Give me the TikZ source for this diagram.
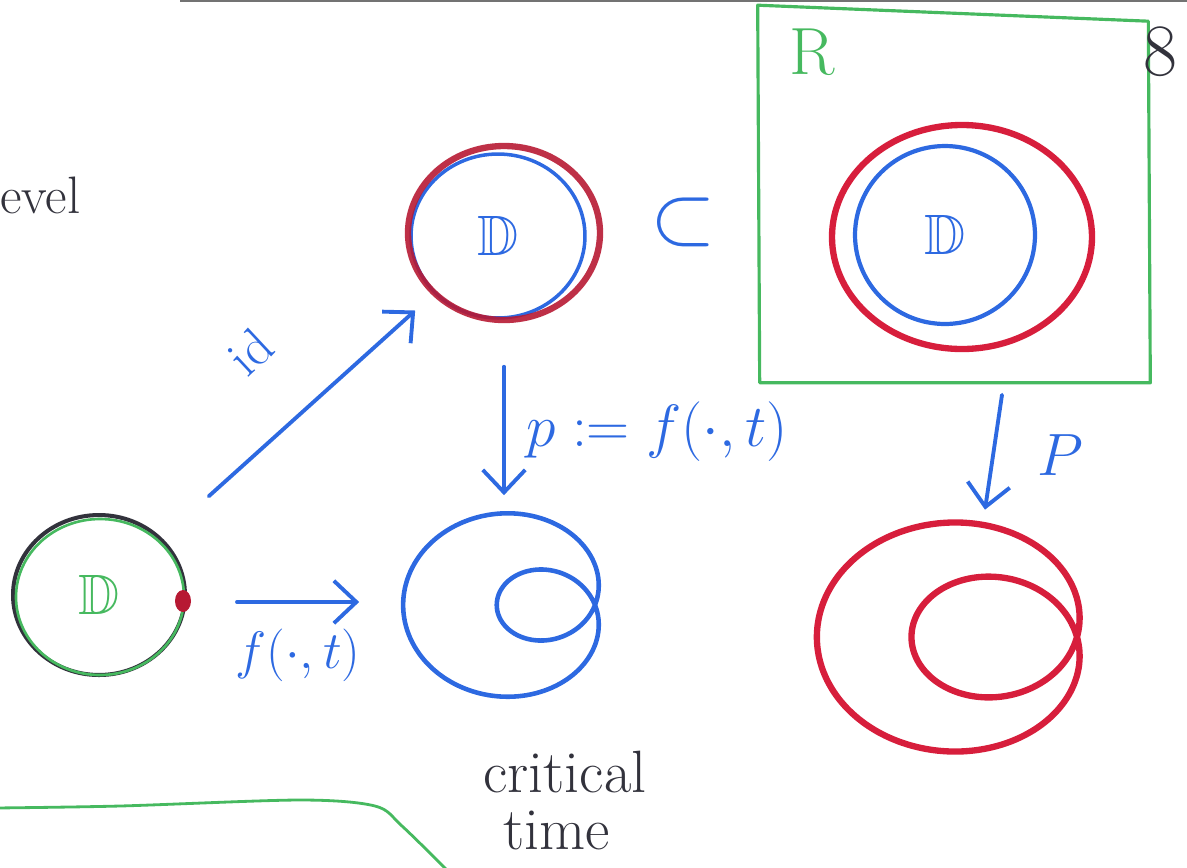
\RequirePackage{fix-cm}
\documentclass[tikz,border=0pt]{standalone}
\usepackage{amsmath, amssymb}
\usetikzlibrary{arrows.meta, shapes.geometric}
\definecolor{inkblue}{RGB}{45,105,225}
\definecolor{inkred}{RGB}{215,30,60}
\definecolor{inkgreen}{RGB}{70,185,95}
\definecolor{inkblack}{RGB}{50,50,60}
\newcommand{\diskD}{\scalebox{1.35}{$\mathbb{D}$}}

\begin{document}
\begin{tikzpicture}[x=0.02cm, y=-0.02cm,
  >={Straight Barb[length=0.45cm, width=0.85cm]},
  arr/.style={->, inkblue, line width=2.2pt, line cap=round},
  disk/.style={ellipse, inner sep=0pt},
  lbl/.style={inner sep=0pt, font=\fontsize{30}{32}\selectfont}]
  \useasboundingbox (0,0) rectangle (1187,867);
  \clip (0,0) rectangle (1187,867);
  \draw[black!55, line width=1pt] (180,1) -- (1187,1);

  % the disk we start from
  \node[disk, draw=inkblack, line width=2.3pt, minimum width=3.44cm, minimum height=3.2cm,
        text=inkgreen, font=\fontsize{24}{26}\selectfont] (D0) at (99,595) {\diskD};
  \draw[inkgreen, line width=1.5pt] (100,597) ellipse [x radius=84, y radius=78];
  \fill[inkred!85!black] ([shift={(-4,6)}]D0.east) ellipse [x radius=8, y radius=11];
  \node[inkblack, lbl, anchor=base west] (level) at (0,213) {evel};

  % identity onto the disk
  \node[disk, draw=inkblue, line width=2pt, minimum width=3.48cm, minimum height=3.28cm,
        text=inkblue, font=\fontsize{24}{26}\selectfont] (D1) at (498,236) {\diskD};
  \draw[inkred!85!black, line width=3.6pt, opacity=0.9] (504,233) ellipse [x radius=96, y radius=87];
  \node[inkblue, inner sep=0pt, font=\fontsize{24}{26}\selectfont] (sub) at (683,222) {\scalebox{2}{$\subset$}};

  % the sphere R
  \node[minimum width=7.84cm, minimum height=7.38cm, inner sep=0pt] (Rbox) at (954,198) {};
  \draw[inkgreen, line width=1.8pt, line join=round]
    ([shift={(0,-8)}]Rbox.north west) -- ([shift={(-2,8)}]Rbox.north east)
    -- (Rbox.south east) -- ([shift={(2,0)}]Rbox.south west) -- cycle;
  \node[inkgreen, lbl, font=\fontsize{38}{40}\selectfont] (Rlbl) at (812,52) {R};
  \node[inkblack, lbl, font=\fontsize{42}{44}\selectfont] (page) at (1160,52) {8};
  \node[disk, draw=inkblue, line width=2.4pt, minimum width=3.6cm, minimum height=3.56cm,
        text=inkblue, font=\fontsize{24}{26}\selectfont] (D2) at (945,235) {\diskD};
  \draw[inkred, line width=3.6pt] (962,237) ellipse [x radius=130, y radius=112];

  % images at the critical time
  \node[minimum width=3.9cm, minimum height=3.7cm, inner sep=0pt] (Lb) at (500,605) {};
  \draw[inkblue, line width=2.6pt] plot[domain=0:357, samples=120, smooth cycle]
    ({595-46.8*(1+3.1*cos(\x))*cos(\x)}, {605+40*(1+3.1*cos(\x))*sin(\x)});
  \node[minimum width=5.2cm, minimum height=4.6cm, inner sep=0pt] (Lr) at (950,637) {};
  \draw[inkred, line width=3.6pt] plot[domain=0:357, samples=120, smooth cycle]
    ({1077-47.3*(1+4.5*cos(\x))*cos(\x)}, {637+38.4*(1+4.5*cos(\x))*sin(\x)});

  % maps
  \draw[arr, shorten <=1.25cm, shorten >=0.5cm] (D0) -- (D1);
  \node[inkblue, lbl, rotate=43] (idlbl) at (250,352) {id};
  \draw[arr] ([shift={(50,7)}]D0.east) -- ([shift={(-43,-3)}]Lb.west);
  \node[inkblue, lbl] (flbl) at (298,655) {$f(\cdot,t)$};
  \draw[arr] ([shift={(6,47)}]D1.south) -- ([shift={(4,-17)}]Lb.north);
  \node[inkblue, lbl, font=\fontsize{34}{36}\selectfont] (plbl) at (657,432) {$p := f(\cdot,t)$};
  \draw[arr] ([shift={(48,12)}]Rbox.south) -- ([shift={(35,-12)}]Lr.north);
  \node[inkblue, lbl, font=\fontsize{34}{36}\selectfont] (Plbl) at (1060,455) {$P$};

  \node[inkblack, lbl, font=\fontsize{34}{36}\selectfont] (crit) at (565,772) {critical};
  \node[inkblack, lbl, font=\fontsize{34}{36}\selectfont] (time) at (557,830) {time};
  \draw[inkgreen, line width=1.6pt] plot[smooth] coordinates
    {(-5,808) (120,806) (300,800) (375,806) (402,826) (452,875)};
\end{tikzpicture}
\end{document}
